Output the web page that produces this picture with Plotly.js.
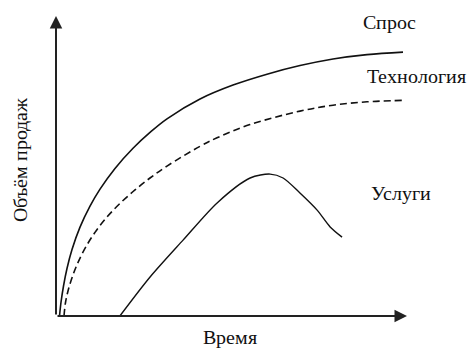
<!DOCTYPE html>
<html>
<head>
<meta charset="utf-8">
<script src="https://cdn.plot.ly/plotly-3.0.1.min.js"></script>
<style>
  @font-face { font-family: 'RefSerif'; src: local('Liberation Serif'), local('LiberationSerif-Regular'), local('DejaVu Serif'); }
  html, body { margin: 0; padding: 0; background: #fff; }
  #chart { width: 471px; height: 350px; }
</style>
</head>
<body>
<div id="chart"></div>
<script>
// время и объём продаж в условных единицах (0..100)
var demandX = [1.0, 1.42, 2.14, 3.13, 4.56, 6.84, 9.69, 12.54, 16.81, 21.94, 26.78, 31.62, 41.03, 50.43, 60.11, 69.52, 78.92, 88.6, 98.86];
var demandY = [0, 4.5, 10, 15.83, 22.17, 29.63, 36.63, 42.3, 49.2, 55.93, 61.2, 65.73, 72.33, 76.97, 80.6, 83.47, 85.67, 87.13, 87.97];

var techX = [2.28, 2.71, 3.42, 4.56, 5.98, 8.26, 11.11, 14.53, 18.23, 22.51, 26.78, 31.62, 41.03, 45.87, 55.27, 69.52, 78.92, 88.6, 98.58];
var techY = [0, 4.5, 8.33, 12.73, 17.07, 22.53, 27.87, 33, 37.53, 42.03, 46, 49.97, 56.57, 59.4, 63.8, 68.3, 70.27, 71.4, 71.87];

var servX = [18.2, 26.8, 36.2, 45.9, 55.3, 61.0, 64.7, 69.5, 74.4, 78.1, 81.5];
var servY = [0, 13, 25.3, 37.7, 46, 47.3, 46, 41, 35.3, 29.7, 26.3];

var labels = ['Спрос', 'Технология', 'Услуги'];
var labelX = [94.9, 102.8, 98.3];
var labelY = [98, 80, 41];

var xTitle = 'Время';
var yTitle = 'Объём продаж';

var serif = "RefSerif, 'Liberation Serif', 'Times New Roman', serif";
var ink = '#111';

var data = [
    {x: demandX, y: demandY, mode: 'lines', line: {color: ink, width: 1.6, shape: 'spline', smoothing: 1}},
    {x: techX, y: techY, mode: 'lines', line: {color: ink, width: 1.6, shape: 'spline', smoothing: 1, dash: '7px,4px'}},
    {x: servX, y: servY, mode: 'lines', line: {color: ink, width: 1.4, shape: 'spline', smoothing: 0.8}}
];

var annotations = [];
// подписи кривых (в долях области построения, т.к. "Технология" выходит за ось)
for (var i = 0; i < labels.length; i++) {
    annotations.push({
        x: labelX[i] / 100, y: labelY[i] / 100, xref: 'paper', yref: 'paper',
        xanchor: 'center', yanchor: 'middle',
        text: labels[i], showarrow: false,
        font: {family: serif, size: 20, color: ink}
    });
}
// подписи осей
annotations.push({x: 0.496, y: -0.07, xref: 'paper', yref: 'paper', xanchor: 'center', yanchor: 'middle',
    borderpad: 0, text: xTitle, showarrow: false, font: {family: serif, size: 20, color: ink}});
annotations.push({x: -0.103, y: 0.52, xref: 'paper', yref: 'paper', xanchor: 'center', yanchor: 'middle',
    text: yTitle, showarrow: false, textangle: -90, font: {family: serif, size: 20, color: ink}});
// оси со стрелками
annotations.push({x: 0, y: 100, ax: 0, ay: 0, xref: 'x', yref: 'y', axref: 'x', ayref: 'y',
    showarrow: true, arrowhead: 2, arrowsize: 1.25, arrowwidth: 2, arrowcolor: '#222', text: ''});
annotations.push({x: 100, y: 0, ax: 0, ay: 0, xref: 'x', yref: 'y', axref: 'x', ayref: 'y',
    showarrow: true, arrowhead: 2, arrowsize: 1.25, arrowwidth: 2, arrowcolor: '#222', text: ''});

var layout = {
    width: 471, height: 350,
    margin: {l: 56, r: 64, t: 16, b: 34},
    paper_bgcolor: '#fff', plot_bgcolor: '#fff',
    font: {family: serif},
    showlegend: false,
    xaxis: {range: [0, 100], showgrid: false, zeroline: false, showticklabels: false, ticks: ''},
    yaxis: {range: [0, 100], showgrid: false, zeroline: false, showticklabels: false, ticks: ''},
    annotations: annotations
};

Plotly.newPlot('chart', data, layout, {staticPlot: true});
</script>
</body>
</html>
